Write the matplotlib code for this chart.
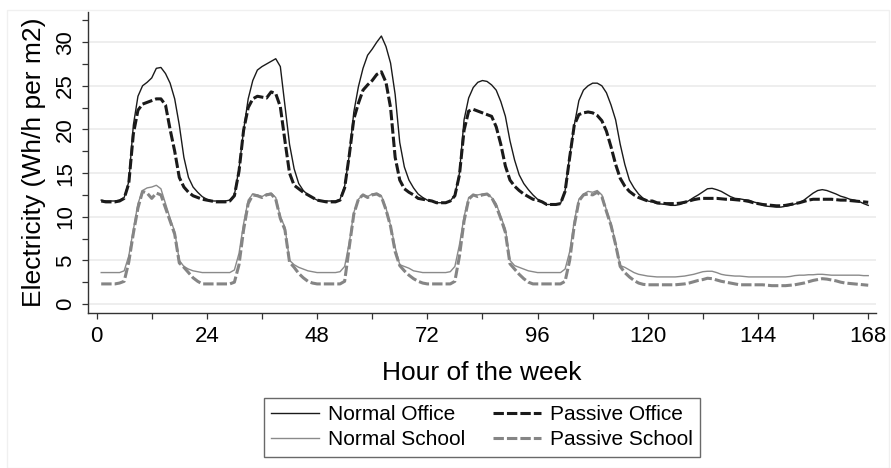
import numpy as np
import matplotlib
matplotlib.use("Agg")
import matplotlib.pyplot as plt
from matplotlib.ticker import MultipleLocator
from matplotlib.patches import Rectangle

plt.rcParams['font.family'] = ['Liberation Sans', 'DejaVu Sans']

# === Data: average hourly electricity use (Wh/h per m2), hours 1..168 ===
hours = np.arange(1, 169)

normal_office = [
    # Mon
    11.9, 11.8, 11.8, 11.8, 11.9, 12.2, 14.0, 20.5, 23.8, 25.0, 25.4, 25.9,
    27.0, 27.1, 26.4, 25.3, 23.5, 20.5, 16.8, 14.5, 13.4, 12.8, 12.3, 12.0,
    # Tue
    11.8, 11.8, 11.8, 11.8, 11.9, 12.5, 15.5, 19.9, 23.5, 25.6, 26.8, 27.2,
    27.5, 27.8, 28.1, 27.2, 22.8, 18.3, 15.5, 13.8, 13.0, 12.5, 12.2, 11.9,
    # Wed
    11.8, 11.8, 11.8, 11.8, 12.0, 13.5, 17.0, 22.0, 24.9, 27.0, 28.5, 29.2,
    30.0, 30.7, 29.5, 27.6, 24.0, 18.5, 15.7, 14.2, 13.3, 12.6, 12.2, 11.9,
    # Thu
    11.8, 11.6, 11.6, 11.6, 11.8, 12.5, 15.0, 21.1, 23.6, 24.8, 25.4, 25.6,
    25.5, 25.1, 24.5, 23.2, 21.5, 18.7, 16.5, 14.8, 13.8, 13.1, 12.5, 12.0,
    # Fri
    11.7, 11.4, 11.4, 11.4, 11.5, 13.0, 17.0, 20.5, 23.3, 24.5, 25.0, 25.3,
    25.3, 25.0, 24.2, 22.8, 21.1, 18.3, 16.0, 14.2, 13.3, 12.6, 12.1, 11.8,
    # Sat
    11.7, 11.5, 11.45, 11.4, 11.3, 11.3, 11.4, 11.6, 11.85, 12.2, 12.5, 12.85,
    13.2, 13.25, 13.1, 12.9, 12.6, 12.3, 12.1, 12.05, 11.95, 11.9, 11.7, 11.55,
    # Sun
    11.3, 11.2, 11.15, 11.1, 11.1, 11.2, 11.3, 11.45, 11.6, 11.9, 12.3, 12.7,
    13.0, 13.1, 13.0, 12.8, 12.6, 12.35, 12.2, 12.0, 11.9, 11.75, 11.5, 11.3,
]

passive_office = [
    11.8, 11.7, 11.7, 11.7, 11.8, 12.1, 13.8, 19.5, 22.2, 22.9, 23.1, 23.3,
    23.5, 23.5, 22.8, 20.0, 17.5, 14.5, 13.4, 12.8, 12.4, 12.2, 12.0, 11.9,
    11.8, 11.7, 11.7, 11.7, 11.8, 12.4, 15.2, 19.9, 22.5, 23.5, 23.8, 23.7,
    23.6, 24.3, 24.1, 22.6, 18.7, 15.0, 13.6, 13.2, 12.8, 12.5, 12.2, 11.9,
    11.8, 11.7, 11.7, 11.7, 11.9, 13.3, 17.0, 21.2, 23.0, 24.5, 25.1, 25.6,
    26.3, 26.6, 25.4, 22.5, 16.8, 14.2, 13.2, 12.8, 12.5, 12.1, 12.0, 11.9,
    11.8, 11.6, 11.6, 11.6, 11.8, 12.4, 14.8, 19.9, 22.1, 22.3, 22.1, 21.9,
    21.7, 21.5, 20.3, 18.3, 15.8, 14.2, 13.5, 13.0, 12.6, 12.3, 12.0, 11.9,
    11.7, 11.4, 11.4, 11.4, 11.5, 12.9, 16.8, 20.5, 21.7, 21.9, 22.0, 21.9,
    21.6, 21.0, 19.8, 18.0, 16.0, 14.4, 13.5, 12.9, 12.5, 12.2, 12.0, 11.8,
    11.8, 11.6, 11.55, 11.5, 11.5, 11.5, 11.55, 11.65, 11.8, 11.95, 12.05, 12.1,
    12.1, 12.1, 12.1, 12.05, 12.0, 12.0, 11.95, 11.9, 11.85, 11.75, 11.6, 11.5,
    11.4, 11.35, 11.3, 11.25, 11.25, 11.3, 11.4, 11.5, 11.6, 11.75, 11.9, 12.0,
    12.0, 12.0, 12.0, 12.0, 11.95, 11.9, 11.9, 11.85, 11.8, 11.75, 11.7, 11.65,
]

normal_school = [
    3.6, 3.6, 3.6, 3.6, 3.6, 3.8, 5.5, 8.5, 11.5, 13.0, 13.3, 13.4,
    13.6, 13.2, 11.5, 9.8, 8.3, 5.0, 4.3, 4.0, 3.8, 3.7, 3.6, 3.6,
    3.6, 3.6, 3.6, 3.6, 3.6, 3.9, 5.8, 9.2, 11.9, 12.6, 12.5, 12.3,
    12.6, 12.7, 12.2, 10.0, 8.8, 5.0, 4.5, 4.2, 4.0, 3.8, 3.7, 3.6,
    3.6, 3.6, 3.6, 3.6, 3.7, 4.3, 7.0, 10.5, 12.0, 12.5, 12.3, 12.6,
    12.7, 12.4, 11.0, 9.0, 6.5, 4.5, 4.3, 4.1, 3.8, 3.7, 3.6, 3.6,
    3.6, 3.6, 3.6, 3.6, 3.7, 4.3, 6.8, 10.0, 12.2, 12.5, 12.5, 12.6,
    12.6, 12.2, 11.5, 10.0, 8.6, 5.0, 4.4, 4.2, 4.0, 3.8, 3.7, 3.6,
    3.6, 3.6, 3.6, 3.6, 3.6, 4.0, 6.0, 9.5, 12.0, 12.6, 12.9, 12.8,
    13.0, 12.5, 10.8, 9.2, 7.0, 4.4, 4.2, 3.9, 3.6, 3.4, 3.3, 3.2,
    3.15, 3.1, 3.1, 3.1, 3.1, 3.1, 3.15, 3.2, 3.3, 3.4, 3.55, 3.7,
    3.75, 3.75, 3.6, 3.4, 3.3, 3.25, 3.2, 3.2, 3.15, 3.1, 3.1, 3.1,
    3.1, 3.1, 3.1, 3.1, 3.1, 3.1, 3.15, 3.25, 3.3, 3.3, 3.35, 3.35,
    3.4, 3.4, 3.35, 3.3, 3.3, 3.3, 3.3, 3.3, 3.3, 3.3, 3.25, 3.25,
]

passive_school = [
    2.3, 2.3, 2.3, 2.3, 2.4, 2.6, 4.8, 8.1, 11.0, 12.9, 12.7, 12.1,
    12.7, 12.5, 11.0, 9.5, 8.0, 4.7, 4.2, 3.6, 3.0, 2.6, 2.3, 2.3,
    2.3, 2.3, 2.3, 2.3, 2.3, 2.5, 4.5, 8.5, 11.5, 12.5, 12.4, 12.2,
    12.5, 12.6, 12.0, 9.8, 8.5, 4.8, 4.2, 3.5, 3.0, 2.6, 2.4, 2.3,
    2.3, 2.3, 2.3, 2.3, 2.3, 2.6, 6.5, 10.3, 12.0, 12.5, 12.2, 12.5,
    12.6, 12.3, 10.8, 8.9, 6.0, 4.4, 3.8, 3.3, 2.9, 2.6, 2.4, 2.3,
    2.3, 2.3, 2.3, 2.3, 2.3, 2.6, 5.5, 9.5, 12.0, 12.5, 12.3, 12.5,
    12.6, 12.2, 11.2, 9.8, 8.2, 4.6, 4.0, 3.4, 2.9, 2.5, 2.3, 2.3,
    2.3, 2.3, 2.3, 2.3, 2.3, 2.6, 5.0, 9.0, 11.8, 12.5, 12.6, 12.5,
    12.8, 12.3, 10.6, 9.0, 6.8, 4.3, 3.6, 3.1, 2.7, 2.4, 2.25, 2.2,
    2.2, 2.2, 2.2, 2.2, 2.2, 2.2, 2.25, 2.3, 2.4, 2.55, 2.7, 2.8,
    2.95, 2.9, 2.75, 2.6, 2.5, 2.4, 2.3, 2.2, 2.2, 2.2, 2.2, 2.2,
    2.2, 2.15, 2.1, 2.1, 2.1, 2.1, 2.15, 2.2, 2.3, 2.4, 2.55, 2.7,
    2.8, 2.9, 2.85, 2.75, 2.65, 2.5, 2.4, 2.35, 2.3, 2.25, 2.2, 2.15,
]

x_ticks = [0, 24, 48, 72, 96, 120, 144, 168]
y_ticks = [0, 5, 10, 15, 20, 25, 30]

# === Figure ===
fig = plt.figure(figsize=(8.91, 4.68), dpi=100)
fig.patches.append(Rectangle((0.008, 0.0), 0.99, 0.978, transform=fig.transFigure,
                             fill=False, edgecolor='#f0f0f0', linewidth=1))
ax = fig.add_axes([0.0988, 0.3318, 0.8844, 0.6425])

dash = (0, (3.4, 1.0))
l1, = ax.plot(hours, normal_office, color='#1a1a1a', lw=1.0, label='Normal Office')
l3, = ax.plot(hours, normal_school, color='#8a8a8a', lw=1.0, label='Normal School')
l2, = ax.plot(hours, passive_office, color='#1a1a1a', lw=2.2, linestyle=dash, label='Passive Office')
l4, = ax.plot(hours, passive_school, color='#858585', lw=2.2, linestyle=dash, label='Passive School')

ax.set_xlim(-1.87, 169.7)
ax.set_ylim(-1.0, 33.45)
ax.set_xticks(x_ticks)
ax.set_yticks(y_ticks)
ax.xaxis.set_minor_locator(MultipleLocator(12))
ax.yaxis.set_minor_locator(MultipleLocator(2.5))
ax.grid(axis='y', which='major', color='#eeeeee', lw=1.4)
ax.set_axisbelow(True)

for s in ['top', 'right']:
    ax.spines[s].set_visible(False)
for s in ['left', 'bottom']:
    ax.spines[s].set_color('#333333')
    ax.spines[s].set_linewidth(1.0)

ax.tick_params(axis='both', which='both', direction='out', length=4.5, width=0.9,
               color='#333333', labelsize=16)
ax.tick_params(axis='x', pad=5)
ax.tick_params(axis='y', pad=4)
for lab in ax.get_yticklabels():
    lab.set_rotation(90)
    lab.set_va('center')

ax.set_xlabel('Hour of the week', fontsize=19, labelpad=10)
ax.set_ylabel('Electricity (Wh/h per m2)', fontsize=19, labelpad=7)

leg = fig.legend(handles=[l1, l3, l2, l4], loc='upper center',
                 bbox_to_anchor=(0.541, 0.172), ncol=2, fontsize=15,
                 frameon=True, fancybox=False, edgecolor='#444444',
                 handlelength=2.3, handletextpad=0.45, columnspacing=1.3,
                 labelspacing=0.3, borderpad=0.35)
leg.get_frame().set_linewidth(1.0)

fig.savefig('out.png', dpi=100)
